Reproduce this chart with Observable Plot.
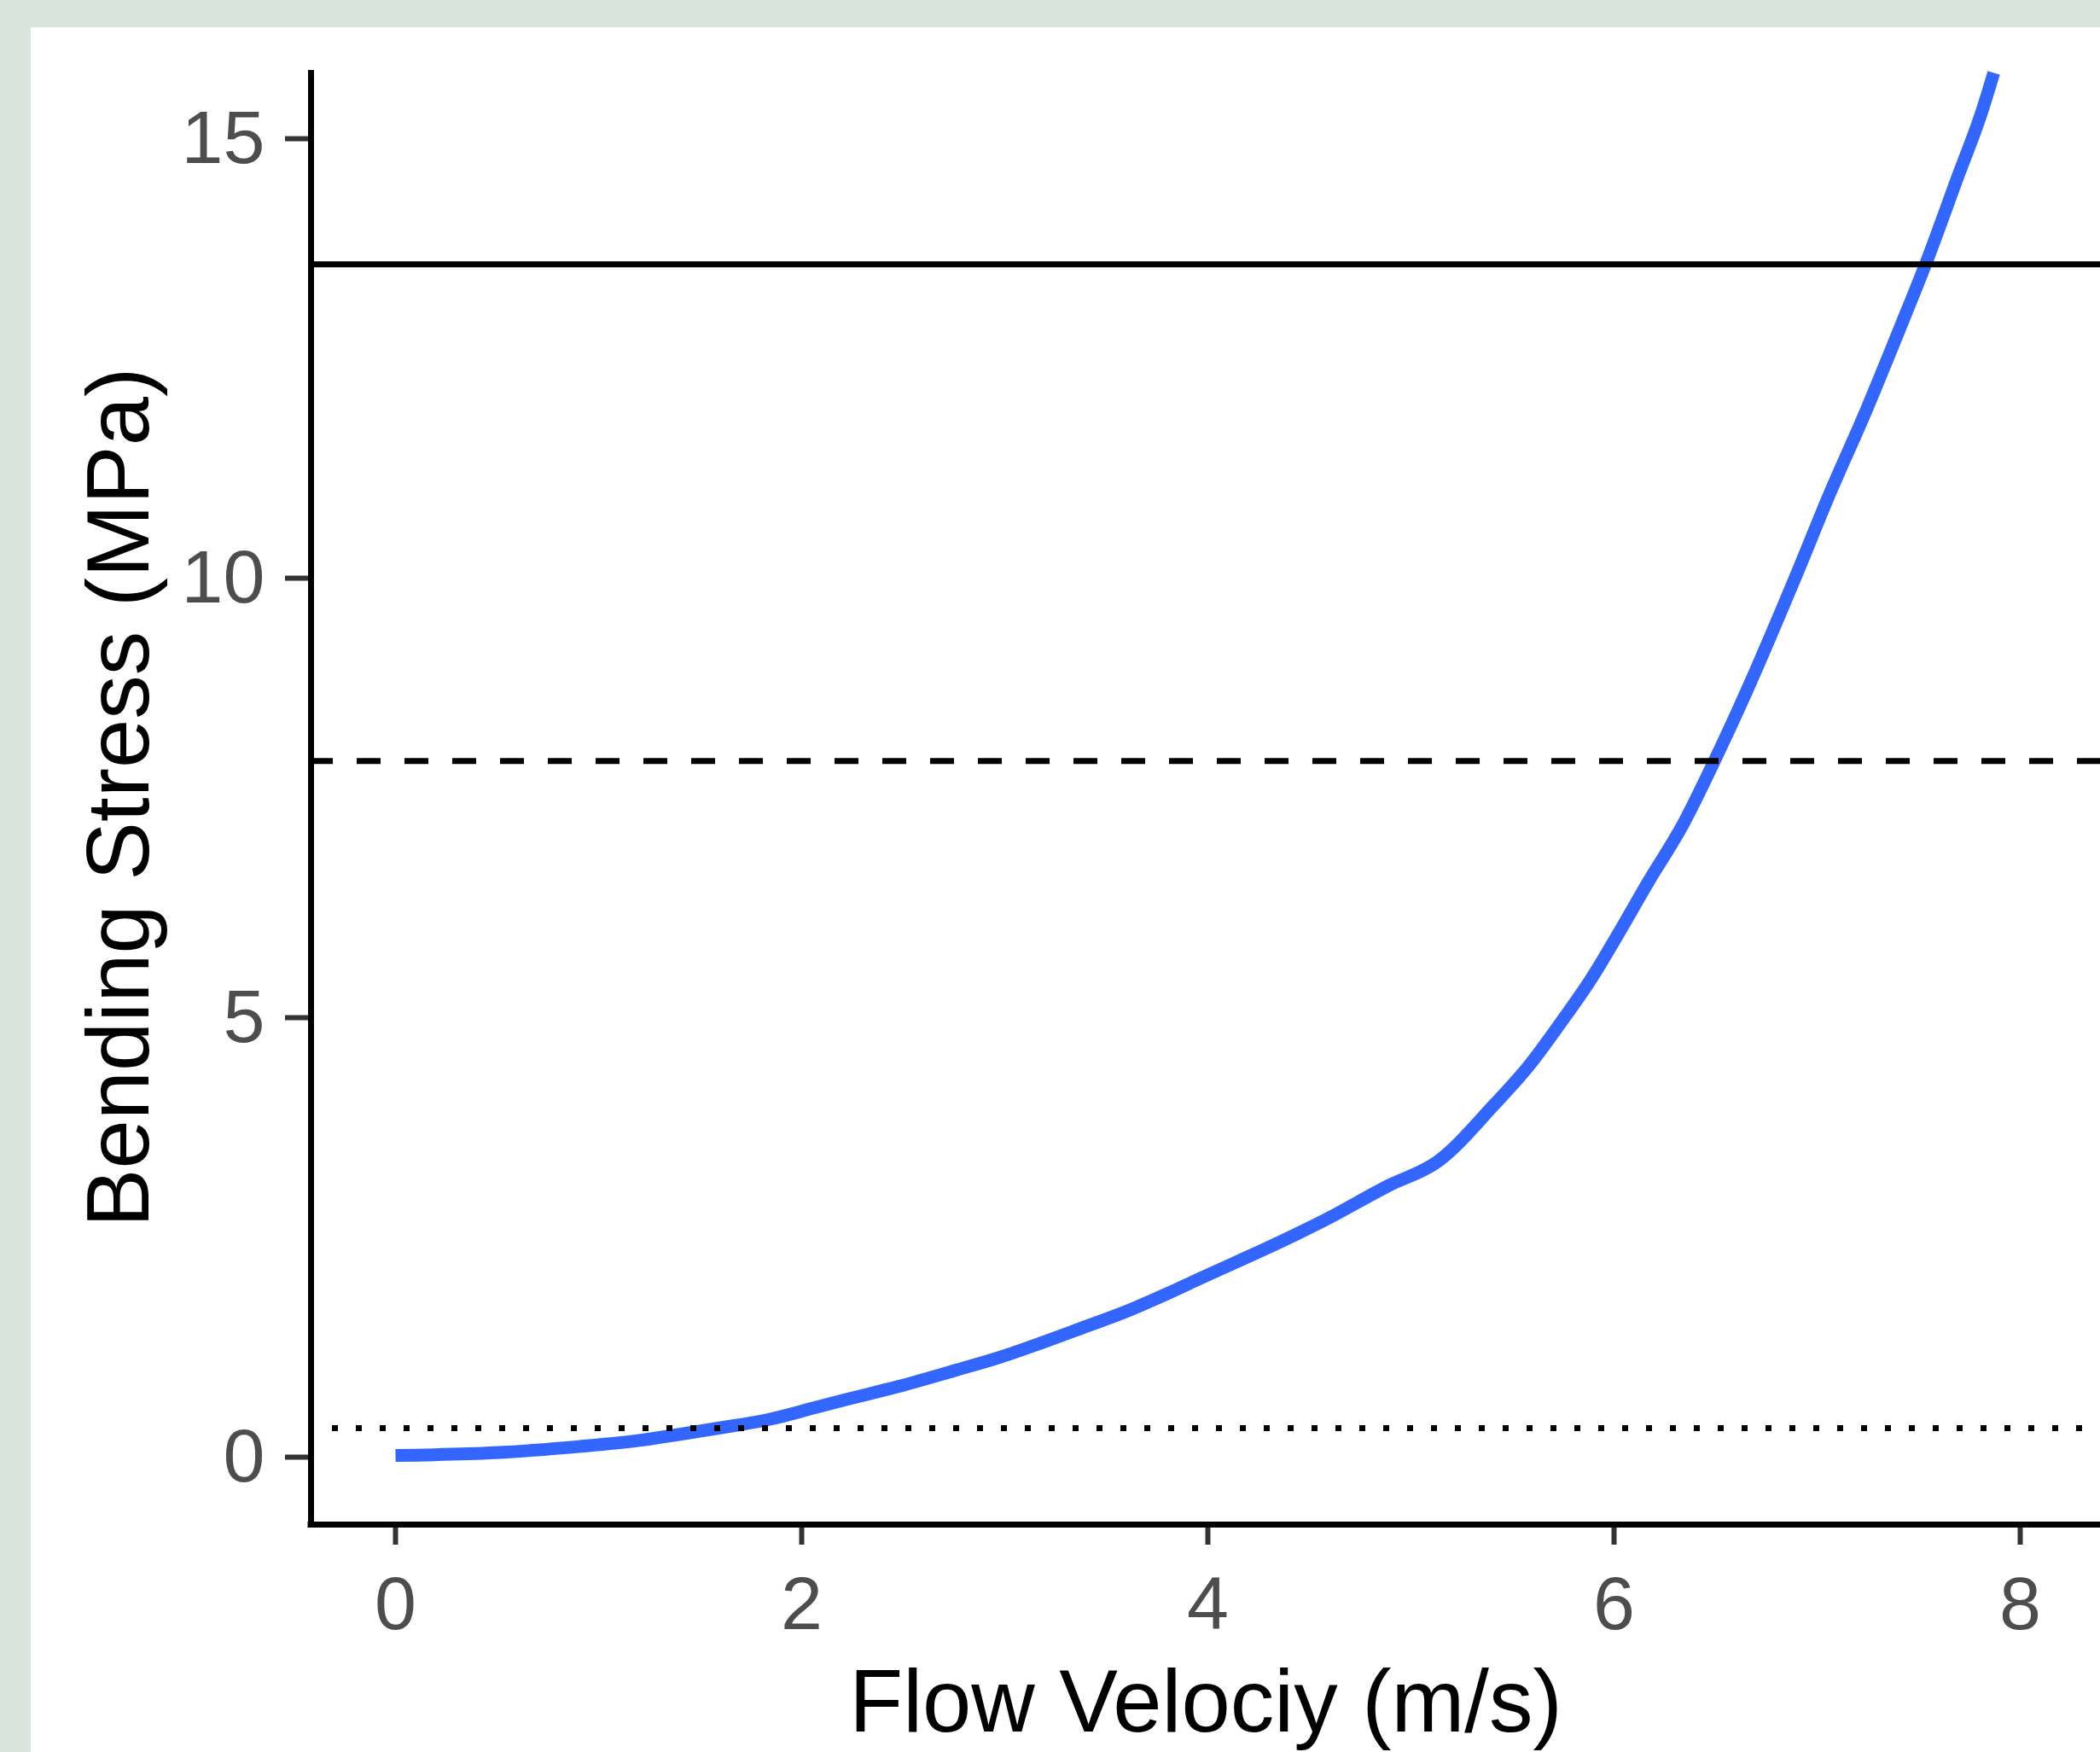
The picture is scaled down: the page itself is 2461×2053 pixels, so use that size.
<!DOCTYPE html>
<html>
<head>
<meta charset="utf-8">
<script src="https://cdn.jsdelivr.net/npm/d3@7"></script>
<script src="https://cdn.jsdelivr.net/npm/@observablehq/plot@0.6"></script>
<style>
  html, body { margin: 0; padding: 0; background: #D9E4DF; width: 2461px; height: 2053px; overflow: hidden; }
  #panel { position: absolute; left: 36px; top: 32px; width: 2425px; height: 2021px; background: #ffffff; }
  #panel svg { display: block; }
</style>
</head>
<body>
<div id="panel"></div>
<script>
// Flow velocity (m/s)
const velocity = [0, 0.49, 0.90, 1.20, 1.40, 1.59, 1.84, 2.06, 2.21, 2.47, 2.76, 2.98, 3.18, 3.38, 3.59, 3.80, 3.94,
  4.385, 4.57, 4.89, 5.13, 5.41, 5.58, 5.74, 5.89, 6.02, 6.17, 6.34, 6.49, 6.65, 6.90, 7.06, 7.24, 7.40, 7.547, 7.69, 7.81, 7.87];
// Bending stress (MPa)
const stress = [0.02, 0.05, 0.12, 0.19, 0.26, 0.33, 0.43, 0.56, 0.65, 0.80, 0.99, 1.14, 1.30, 1.47, 1.65, 1.86, 2.01,
  2.48, 2.69, 3.09, 3.36, 4.01, 4.45, 4.95, 5.45, 5.95, 6.55, 7.20, 7.90, 8.70, 10.05, 10.95, 11.90, 12.80, 13.65, 14.55, 15.30, 15.75];

// Reference levels (MPa)
const solidLevel = [13.57];
const dashedLevel = [7.92];
const dottedLevel = [0.33];

const xTicks = [0, 2, 4, 6, 8];
const yTicks = [0, 5, 10, 15];
const xDomain = [-0.416, 8.395];
const yDomain = [-0.767, 15.777];
const xTitle = ["Flow Velociy (m/s)"];
const yTitle = ["Bending Stress (MPa)"];

const curve = velocity.map((v, i) => ({v, s: stress[i]}));

const font = "'Liberation Sans', Arial, sans-serif";

const chart = Plot.plot({
  width: 2425,
  height: 2021,
  marginLeft: 328,
  marginTop: 50,
  marginBottom: 267,
  marginRight: 0,
  style: {background: "#ffffff", fontFamily: font, overflow: "visible"},
  x: {domain: xDomain},
  y: {domain: yDomain},
  marks: [
    Plot.line(curve, {x: "v", y: "s", stroke: "#3366FF", strokeWidth: 15, curve: "monotone-x",
      strokeLinecap: "butt", strokeLinejoin: "round", clip: true}),
    Plot.ruleY(solidLevel, {stroke: "#000000", strokeWidth: 7}),
    Plot.ruleY(dashedLevel, {stroke: "#000000", strokeWidth: 7, strokeDasharray: "28,28", strokeDashoffset: 2}),
    Plot.ruleY(dottedLevel, {stroke: "#000000", strokeWidth: 7, strokeDasharray: "7,21", strokeDashoffset: 3}),
    Plot.axisX(xTicks, {tickSize: 24, tickPadding: 36, fontSize: 88, stroke: "#333333", strokeWidth: 6,
      fill: "#4D4D4D", label: null, fontFamily: font, tickFormat: d => String(d)}),
    Plot.axisY(yTicks, {tickSize: 30, tickPadding: 24, fontSize: 88, stroke: "#333333", strokeWidth: 6,
      fill: "#4D4D4D", label: null, fontFamily: font, tickFormat: d => String(d)}),
    Plot.ruleX([xDomain[0]], {stroke: "#000000", strokeWidth: 7, strokeLinecap: "butt"}),
    Plot.ruleY([yDomain[0]], {stroke: "#000000", strokeWidth: 7, strokeLinecap: "square"}),
    Plot.text(xTitle, {text: d => d, frameAnchor: "bottom", dy: 242, lineAnchor: "bottom", textAnchor: "middle",
      fontSize: 103, fill: "#000000", fontFamily: font}),
    Plot.text(yTitle, {text: d => d, frameAnchor: "left", dx: -191, rotate: -90, lineAnchor: "bottom",
      textAnchor: "middle", fontSize: 103, fill: "#000000", fontFamily: font})
  ]
});

document.getElementById("panel").appendChild(chart);
</script>
</body>
</html>
